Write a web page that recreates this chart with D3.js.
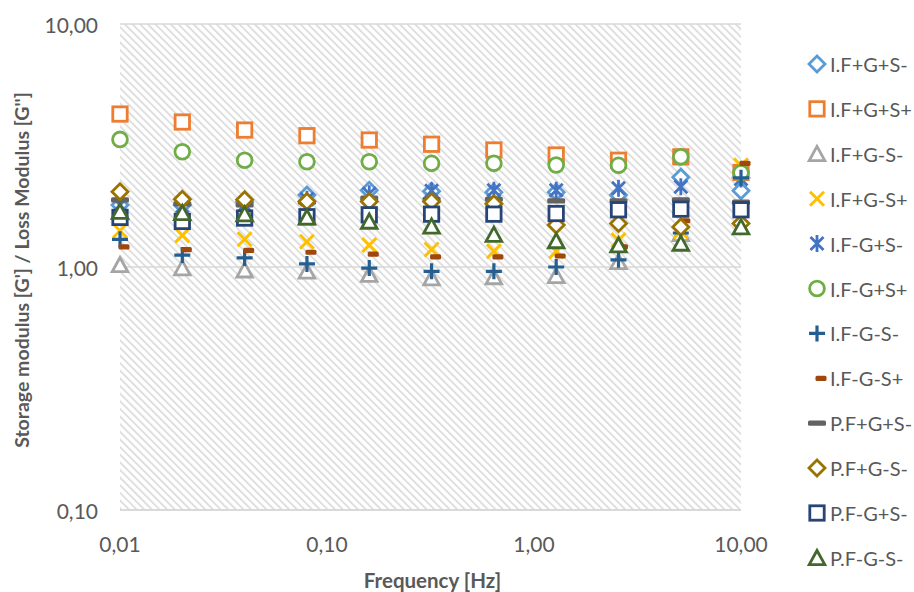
<!DOCTYPE html>
<html>
<head>
<meta charset="utf-8">
<script src="https://cdn.jsdelivr.net/npm/d3@7"></script>
<style>
  html, body { margin: 0; padding: 0; background: #fff; }
  svg { display: block; }
</style>
</head>
<body>
<svg id="chart" width="914" height="592"></svg>
<script>
// ---- data ----
const frequencies = [0.01, 0.02, 0.04, 0.08, 0.16, 0.32, 0.64, 1.28, 2.56, 5.12, 10];
const seriesNames = ["I.F+G+S-", "I.F+G+S+", "I.F+G-S-", "I.F+G-S+", "I.F-G+S-", "I.F-G+S+",
                     "I.F-G-S-", "I.F-G-S+", "P.F+G+S-", "P.F+G-S-", "P.F-G+S-", "P.F-G-S-"];
const IFpGpSm = [1.80, 1.80, 1.85, 1.98, 2.07, 2.05, 2.03, 2.03, 1.98, 2.34, 2.06];
const IFpGpSp = [4.26, 3.95, 3.66, 3.47, 3.33, 3.20, 3.03, 2.89, 2.75, 2.84, 2.45];
const IFpGmSm = [1.02, 0.99, 0.97, 0.96, 0.93, 0.90, 0.91, 0.92, 1.05, 1.37, 2.50];
const IFpGmSp = [1.41, 1.35, 1.30, 1.27, 1.23, 1.18, 1.16, 1.16, 1.29, 1.40, 2.62];
const IFmGpSm = [1.80, 1.78, 1.80, 1.90, 2.00, 2.06, 2.07, 2.07, 2.11, 2.14, 2.30];
const IFmGpSp = [3.35, 2.98, 2.75, 2.71, 2.71, 2.67, 2.67, 2.63, 2.62, 2.84, 2.44];
const IFmGmSm = [1.30, 1.12, 1.09, 1.03, 0.99, 0.96, 0.96, 1.00, 1.07, 1.38, 2.33];
const IFmGmSp = [1.21, 1.18, 1.17, 1.15, 1.13, 1.10, 1.10, 1.11, 1.21, 1.55, 2.67];
const PFpGpSm = [1.89, 1.82, 1.80, 1.85, 1.92, 1.90, 1.90, 1.87, 1.87, 1.89, 1.85];
const PFpGmSm = [2.04, 1.90, 1.89, 1.86, 1.86, 1.86, 1.82, 1.49, 1.51, 1.46, 1.51];
const PFmGpSm = [1.60, 1.54, 1.59, 1.61, 1.64, 1.65, 1.65, 1.66, 1.72, 1.73, 1.72];
const PFmGmSm = [1.69, 1.67, 1.65, 1.60, 1.54, 1.47, 1.36, 1.28, 1.23, 1.25, 1.46];
const seriesValues = [IFpGpSm, IFpGpSp, IFpGmSm, IFpGmSp, IFmGpSm, IFmGpSp,
                      IFmGmSm, IFmGmSp, PFpGpSm, PFpGmSm, PFmGpSm, PFmGmSm];
const seriesColors = ["#5B9BD5", "#ED7D31", "#A5A5A5", "#FFC000", "#4472C4", "#70AD47",
                      "#255E91", "#9E480E", "#636363", "#997300", "#264478", "#43682B"];
const seriesMarkers = ["diamond", "square", "triangle", "x", "star", "circle",
                       "plus", "shortdash", "longdash", "diamond", "square", "triangle"];
const xTickValues = [0.01, 0.1, 1, 10];
const xTickLabels = ["0,01", "0,10", "1,00", "10,00"];
const yTickValues = [0.1, 1, 10];
const yTickLabels = ["0,10", "1,00", "10,00"];
const xTitle = "Frequency [Hz]";
const yTitle = "Storage modulus [G'] / Loss Modulus [G'']";

// ---- layout ----
const svg = d3.select("#chart");
const L = 120, R = 741, T = 24, B = 510;
const x = d3.scaleLog().domain([0.01, 10]).range([L, R]);
const y = d3.scaleLog().domain([0.1, 10]).range([B, T]);
const textColor = "#595959";
const font = "Lato, 'Open Sans', sans-serif";

// hatch pattern
const defs = svg.append("defs");
const pat = defs.append("pattern")
  .attr("id", "hatch").attr("patternUnits", "userSpaceOnUse")
  .attr("width", 5.4).attr("height", 5.4)
  .attr("patternTransform", "rotate(-45)");
pat.append("rect").attr("width", 5.4).attr("height", 5.4).attr("fill", "#ffffff");
pat.append("rect").attr("x", 0).attr("y", 0).attr("width", 1.9).attr("height", 5.4).attr("fill", "#dedede");

svg.append("rect").attr("x", L).attr("y", T).attr("width", R - L).attr("height", B - T)
  .attr("fill", "url(#hatch)");

// gridlines
svg.append("g").selectAll("line").data(yTickValues).join("line")
  .attr("x1", L).attr("x2", R)
  .attr("y1", d => y(d)).attr("y2", d => y(d))
  .attr("stroke", "#d9d9d9").attr("stroke-width", d => d === 0.1 ? 2 : 1.5);

// y tick labels
svg.append("g").selectAll("text").data(yTickValues).join("text")
  .attr("x", 98).attr("y", d => y(d))
  .attr("text-anchor", "end").attr("dominant-baseline", "central")
  .attr("font-family", font).attr("font-size", 21).attr("fill", textColor)
  .text((d, i) => yTickLabels[i]);

// x tick labels
svg.append("g").selectAll("text").data(xTickValues).join("text")
  .attr("x", d => x(d)).attr("y", 543)
  .attr("text-anchor", "middle").attr("dominant-baseline", "central")
  .attr("font-family", font).attr("font-size", 21).attr("fill", textColor)
  .text((d, i) => xTickLabels[i]);

// axis titles
svg.append("text").attr("x", (L + R) / 2 + 2).attr("y", 580)
  .attr("text-anchor", "middle").attr("dominant-baseline", "central")
  .attr("font-family", font).attr("font-weight", "bold").attr("font-size", 20.5).attr("fill", textColor)
  .text(xTitle);
svg.append("text")
  .attr("transform", `translate(21,${(T + B) / 2 + 3}) rotate(-90)`)
  .attr("text-anchor", "middle").attr("dominant-baseline", "central")
  .attr("font-family", font).attr("font-weight", "bold").attr("font-size", 19.5).attr("fill", textColor)
  .text(yTitle);

// markers
function drawMarker(g, type, color) {
  const sw = 2.8;
  switch (type) {
    case "diamond":
      g.append("path").attr("d", "M0,-8L8,0L0,8L-8,0Z")
        .attr("fill", "#fff").attr("stroke", color).attr("stroke-width", sw);
      break;
    case "square":
      g.append("rect").attr("x", -7.2).attr("y", -7.2).attr("width", 14.4).attr("height", 14.4)
        .attr("fill", "#fff").attr("stroke", color).attr("stroke-width", sw);
      break;
    case "triangle":
      g.append("path").attr("d", "M0,-7.4L7.8,6.8L-7.8,6.8Z")
        .attr("fill", "#fff").attr("stroke", color).attr("stroke-width", sw).attr("stroke-linejoin", "miter");
      break;
    case "circle":
      g.append("circle").attr("r", 7.4)
        .attr("fill", "#fff").attr("stroke", color).attr("stroke-width", sw);
      break;
    case "x":
      g.append("path").attr("d", "M-7,-7L7,7M-7,7L7,-7")
        .attr("fill", "none").attr("stroke", color).attr("stroke-width", 3);
      break;
    case "star":
      g.append("path").attr("d", "M-6.5,-6.5L6.5,6.5M-6.5,6.5L6.5,-6.5M0,-8.5L0,8.5")
        .attr("fill", "none").attr("stroke", color).attr("stroke-width", 2.8);
      break;
    case "plus":
      g.append("path").attr("d", "M-8,0L8,0M0,-8L0,8")
        .attr("fill", "none").attr("stroke", color).attr("stroke-width", 3.2);
      break;
    case "shortdash":
      g.append("rect").attr("x", -1.5).attr("y", -2.6).attr("width", 11).attr("height", 5.2).attr("rx", 1.5)
        .attr("fill", color);
      break;
    case "longdash":
      g.append("rect").attr("x", -9).attr("y", -2.6).attr("width", 18).attr("height", 5.2).attr("rx", 1.5)
        .attr("fill", color);
      break;
  }
}

const plotG = svg.append("g");
seriesValues.forEach((vals, si) => {
  const sg = plotG.append("g");
  vals.forEach((v, i) => {
    const g = sg.append("g").attr("transform", `translate(${x(frequencies[i])},${y(v)})`);
    drawMarker(g, seriesMarkers[si], seriesColors[si]);
  });
});

// legend
const legend = svg.append("g");
seriesNames.forEach((name, i) => {
  const ly = 64 + i * 44.9;
  const g = legend.append("g").attr("transform", `translate(817,${ly})`);
  drawMarker(g, seriesMarkers[i], seriesColors[i]);
  legend.append("text").attr("x", 830).attr("y", ly)
    .attr("dominant-baseline", "central")
    .attr("font-family", font).attr("font-size", 20).attr("fill", textColor)
    .text(name);
});
</script>
</body>
</html>
